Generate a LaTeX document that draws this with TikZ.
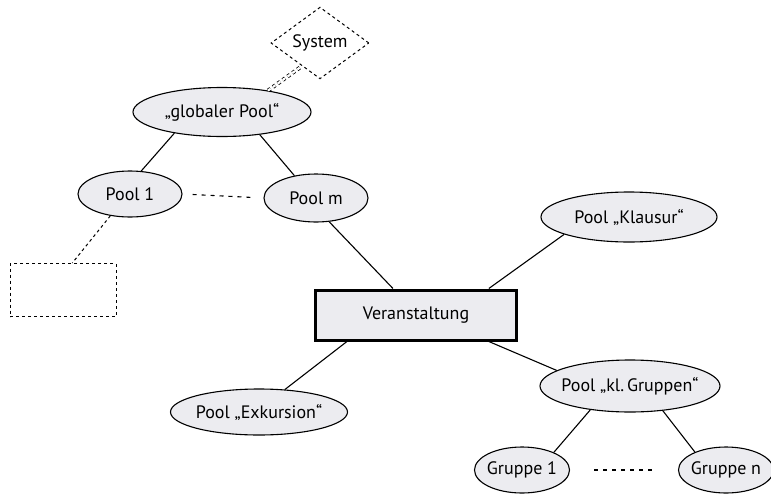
\documentclass[tikz,border=0pt]{standalone}
\usepackage{fontspec}
\setmainfont{PT Sans}
\usetikzlibrary{shapes.geometric}
\usetikzlibrary{calc}
\definecolor{poolgray}{RGB}{236,236,240}

\begin{document}
\begin{tikzpicture}[x=1pt, y=-1pt,
  font=\fontsize{18}{21}\selectfont,
  pool/.style={ellipse, draw, fill=poolgray, line width=1.1pt, inner xsep=-10pt, inner ysep=0pt},
  link/.style={line width=1.1pt},
  dots/.style={line width=1.1pt, dash pattern=on 4pt off 5pt}]
\useasboundingbox (0,0) rectangle (771,493);
\node[diamond, draw, dashed, line width=1pt, minimum width=98, minimum height=67, inner sep=0] (sys) at (320,43) {System};
\node[pool, minimum width=178, minimum height=49] (gp) at (222,112) {„globaler Pool“};
\node[pool, minimum width=104, minimum height=46] (p1) at (130,194) {Pool 1};
\node[pool, minimum width=104, minimum height=48] (pm) at (316,198) {Pool m};
\node[draw, dashed, line width=1pt, minimum width=106, minimum height=53] (box) at (63,290) {};
\node[draw, fill=poolgray, line width=3pt, minimum width=201, minimum height=50] (va) at (416,315) {Veranstaltung};
\node[pool, minimum width=176, minimum height=50] (kl) at (629,217) {Pool „Klausur“};
\node[pool, minimum width=177, minimum height=46] (ex) at (259,412) {Pool „Exkursion“};
\node[pool, minimum width=180, minimum height=52] (kg) at (630,386) {Pool „kl.\,Gruppen“};
\node[pool, minimum width=95, minimum height=46] (g1) at (522,470) {Gruppe 1};
\node[pool, minimum width=95, minimum height=46] (gn) at (726,470) {Gruppe n};

% global pool
\draw[double, dashed, line width=.8pt, double distance=2.2pt] (gp.25) -- (sys.232);
\draw[link] (gp.204) -- (p1.64);
\draw[link] (gp.329) -- (pm.134);
\draw[dots, shorten <=10pt, shorten >=12pt] (p1.east) -- (pm.west);
\draw[dashed, line width=1pt] (p1.228) -- (box.71);

% Veranstaltung
\draw[link] (pm.299) -- (va.131);
\draw[link] (kl.195) -- (va.20.6);
\draw[link] (va.201.5) -- (ex.41);
\draw[link] (va.340.6) -- (kg.168.7);

% Gruppen
\draw[link] (kg.211.8) -- (g1.29);
\draw[link] (kg.323.6) -- (gn.150.6);
\draw[dots, shorten <=24pt, shorten >=22pt] (g1.east) -- (gn.west);
\end{tikzpicture}
\end{document}
